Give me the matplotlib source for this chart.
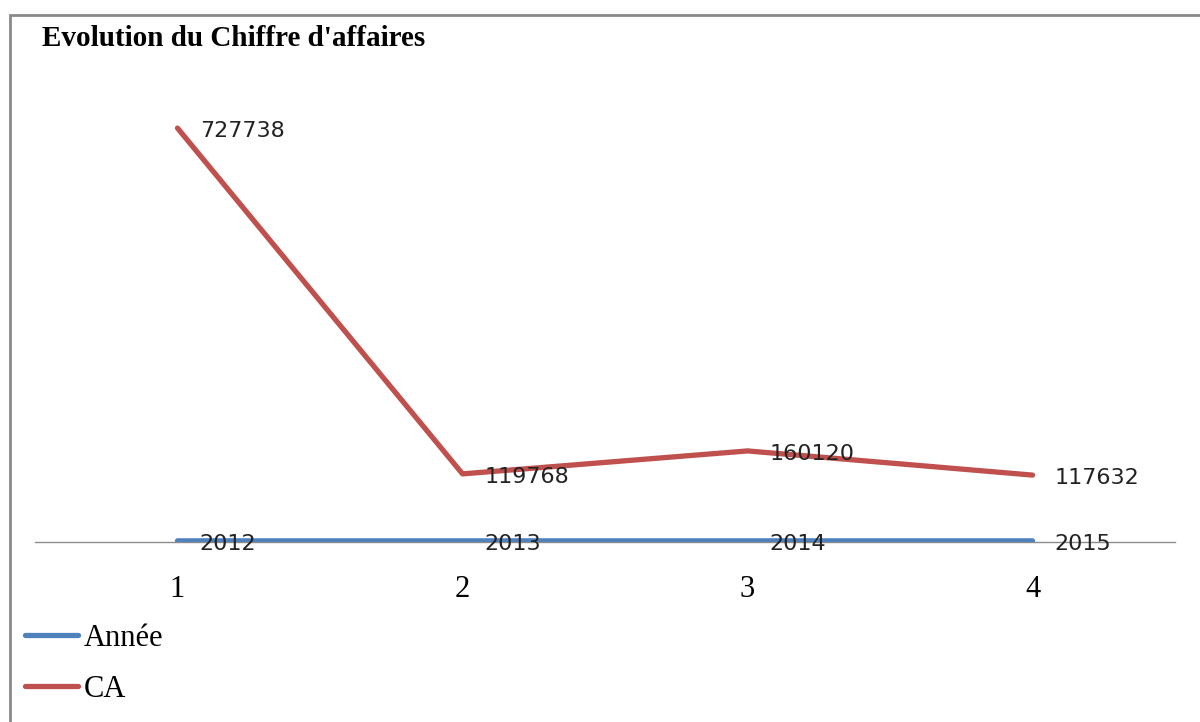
import matplotlib.pyplot as plt
from matplotlib.patches import Rectangle

# data
positions = [1, 2, 3, 4]
annee = [2012, 2013, 2014, 2015]
ca = [727738, 119768, 160120, 117632]
tick_labels = ['1', '2', '3', '4']

blue = '#4F81BD'
red = '#C0504D'

fig = plt.figure(figsize=(12, 7.22), dpi=100)
ax = fig.add_axes([35/1200, (722-542)/722, 1140/1200, 455/722])

ax.plot(positions, annee, color=blue, lw=3.8, solid_capstyle='round', label='Année', zorder=3)
ax.plot(positions, ca, color=red, lw=3.8, solid_capstyle='round', label='CA', zorder=3)

# data labels to the right of each point
for x, v in zip(positions, annee):
    ax.annotate(str(v), (x, v), xytext=(16, -2), textcoords='offset points',
                va='center', ha='left', fontsize=16, family='DejaVu Sans', color='#222222', zorder=4)
for x, v in zip(positions, ca):
    ax.annotate(str(v), (x, v), xytext=(16, -2), textcoords='offset points',
                va='center', ha='left', fontsize=16, family='DejaVu Sans', color='#222222', zorder=4)

ax.set_xlim(0.5, 4.5)
ax.set_ylim(0, 800000)
ax.set_xticks(positions)
ax.set_xticklabels(tick_labels, family='Liberation Serif', fontsize=22)
ax.tick_params(axis='x', length=0, pad=24)
ax.set_yticks([])
for side in ['top', 'right', 'left']:
    ax.spines[side].set_visible(False)
ax.spines['bottom'].set_color('#8c8c8c')
ax.spines['bottom'].set_linewidth(1)
ax.spines['bottom'].set_zorder(2)

fig.text(42/1200, 1 - 39/722, "Evolution du Chiffre d'affaires", family='Liberation Serif',
         fontweight='bold', fontsize=21, va='center', ha='left')

fig.legend(loc='upper left', bbox_to_anchor=(25/1200, 1 - 624/722), frameon=False,
           prop={'family': 'Liberation Serif', 'size': 22}, handlelength=1.73,
           handletextpad=0.2, labelspacing=0.72, borderaxespad=0, borderpad=0)

# outer chart border
fig.patches.append(Rectangle((10/1200, -0.1), 1.2, 1 - 15/722 + 0.1, transform=fig.transFigure,
                             fill=False, edgecolor='#8a8a8a', lw=2))

fig.savefig('out.png', dpi=100)
